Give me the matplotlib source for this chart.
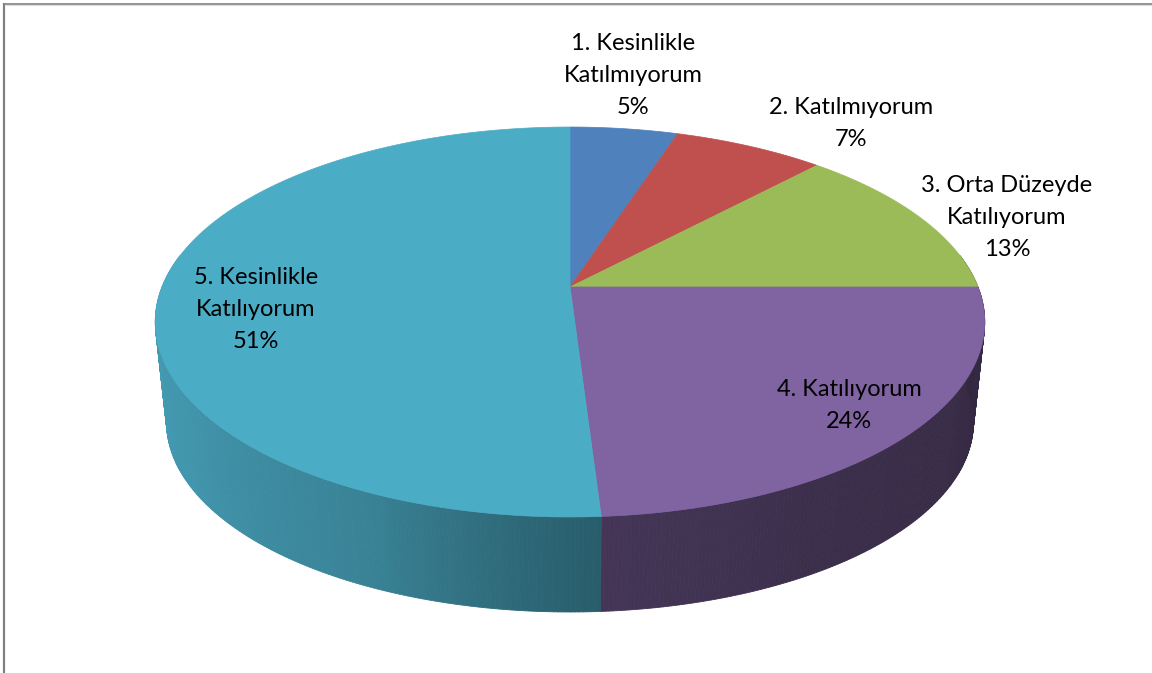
import numpy as np
import matplotlib.pyplot as plt
from matplotlib.patches import Polygon
from matplotlib.colors import to_rgb

labels = ["1. Kesinlikle\nKatılmıyorum", "2. Katılmıyorum",
          "3. Orta Düzeyde\nKatılıyorum", "4. Katılıyorum",
          "5. Kesinlikle\nKatılıyorum"]
values = [5, 7, 13, 24, 51]
colors = ["#4F81BD", "#C0504D", "#9BBB59", "#8064A2", "#4BACC6"]

# label centres in pixel space
label_xy = [(633, 75), (851, 123), (1007, 218), (849, 406), (256, 309)]
LINE_H = 32

# perspective pie geometry (pixels)
CX, CY = 570, 287          # apex of the wedges
A, B, K = 408, 188.7, 0.1795
TOP_FRONT, BOT_FRONT, VY = 517, 612, 4000
S = (VY - BOT_FRONT) / (VY - TOP_FRONT)


def top_pt(theta):
    t = np.radians(theta)
    X, Y = np.cos(t), np.sin(t)
    w = 1 + K * Y
    return CX + A * X / w, CY - B * Y / w


def bot_pt(theta):
    u, v = top_pt(theta)
    return CX + S * (u - CX), VY + S * (v - VY)


# side shading vs angle (deg, 0=right, ccw, wrapped to 170..370)
shade_ang = [170, 180, 210, 245, 265, 275, 300, 360, 370]
shade_fac = [0.93, 0.93, 0.87, 0.76, 0.60, 0.53, 0.47, 0.40, 0.40]


def shade(theta):
    a = theta % 360
    if a < 170:
        a += 360
    return np.interp(a, shade_ang, shade_fac)


fig = plt.figure(figsize=(11.52, 6.73), dpi=100)
ax = fig.add_axes([0, 0, 1, 1])
ax.set_xlim(0, 1152)
ax.set_ylim(673, 0)
ax.axis("off")

total = sum(values)
cum = np.concatenate([[0], np.cumsum(values)])
edges = 90 - 360 * cum / total

# side walls (front half only)
for i, c in enumerate(colors):
    a0, a1 = edges[i + 1], edges[i]
    lo, hi = max(a0, -190), min(a1, 10)
    if lo >= hi:
        continue
    n = max(2, int((hi - lo) * 2))
    angs = np.linspace(lo, hi, n + 1)
    base = np.array(to_rgb(c))
    for j in range(n):
        t0, t1 = angs[j], angs[j + 1]
        col = np.clip(base * shade(0.5 * (t0 + t1)), 0, 1)
        pts = [top_pt(t0), top_pt(t1), bot_pt(t1), bot_pt(t0)]
        ax.add_patch(Polygon(pts, closed=True, facecolor=col, edgecolor=col, lw=0.6))

# top face
for i, c in enumerate(colors):
    a0, a1 = edges[i + 1], edges[i]
    angs = np.linspace(a0, a1, 200)
    xs, ys = top_pt(angs)
    pts = [(CX, CY)] + list(zip(xs, ys))
    ax.add_patch(Polygon(pts, closed=True, facecolor=c, edgecolor=c, lw=0.5))

# labels
for lab, v, (x, y) in zip(labels, values, label_xy):
    lines = lab.split("\n") + [f"{v}%"]
    n = len(lines)
    for k, line in enumerate(lines):
        ax.text(x, y + (k - (n - 1) / 2) * LINE_H, line, ha="center", va="center",
                fontsize=17, family="Lato", color="black")

# chart frame remnants (left and top)
ax.plot([4, 4], [3, 673], color="#808080", lw=1.6, solid_capstyle="butt")
ax.plot([3, 1152], [3.5, 3.5], color="#808080", lw=1.2, solid_capstyle="butt")
ax.plot([5, 1152], [5, 5], color="#dcdcdc", lw=0.8, solid_capstyle="butt")

fig.savefig("out.png", dpi=100)
